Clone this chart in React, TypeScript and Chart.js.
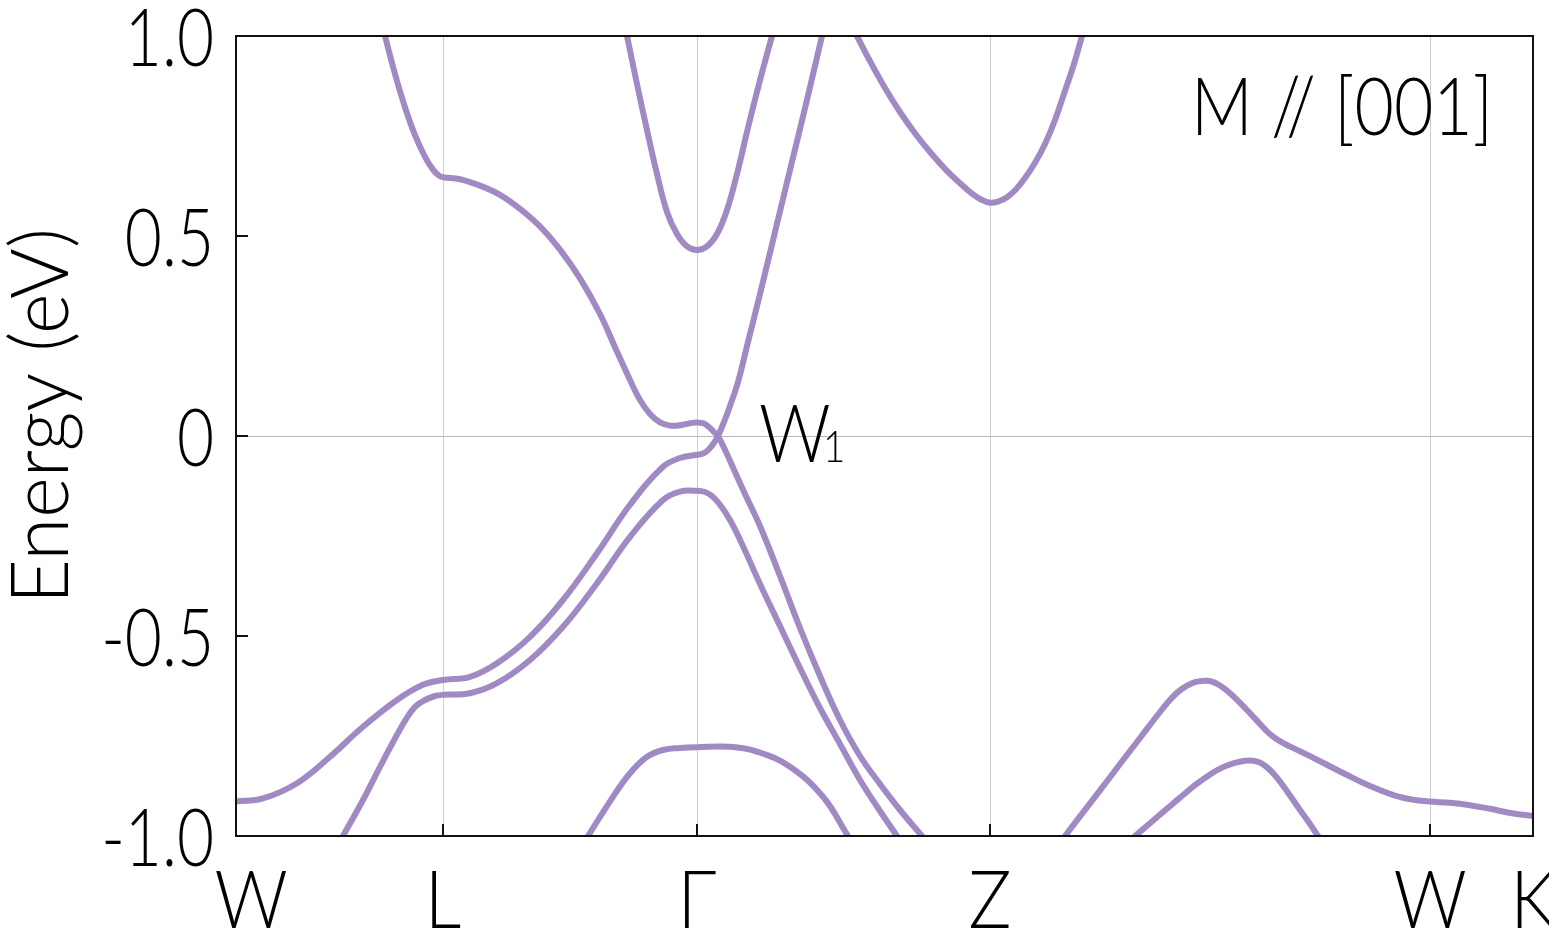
import React, { useEffect, useRef } from "react";
import { Chart, registerables } from "chart.js";

Chart.register(...registerables);

// High-symmetry points along the k-path (arbitrary path-length units)
const kPoints = [0, 0.207, 0.461, 0.754, 1.194, 1.297];
const kLabels = ["W", "L", "Γ", "Z", "W", "K"];

// Energy axis
const yTicks = [-1, -0.5, 0, 0.5, 1];
const yTickLabels = ["-1.0", "-0.5", "0", "0.5", "1.0"];

// Band: conduction band from L, down to Γ, through W1 and down towards Z
const bandC1K = [0.149, 0.159, 0.169, 0.179, 0.189, 0.197, 0.203, 0.207, 0.224, 0.244, 0.264, 0.284, 0.304, 0.324, 0.344, 0.364, 0.379, 0.394, 0.404, 0.414, 0.424, 0.434, 0.444, 0.454, 0.461, 0.468, 0.474, 0.478, 0.482, 0.49, 0.499, 0.509, 0.524, 0.544, 0.564, 0.584, 0.604, 0.624, 0.644, 0.664, 0.686];
const bandC1E = [1.0, 0.905, 0.822, 0.752, 0.698, 0.666, 0.651, 0.647, 0.642, 0.626, 0.603, 0.568, 0.524, 0.466, 0.394, 0.305, 0.222, 0.14, 0.09, 0.055, 0.034, 0.026, 0.027, 0.032, 0.034, 0.031, 0.02, 0.01, 0, -0.04, -0.09, -0.145, -0.225, -0.35, -0.48, -0.6, -0.71, -0.8, -0.87, -0.935, -1.0];

// Band: top valence band W-L-Γ, through W1 and up
const bandV1K = [0, 0.027, 0.061, 0.094, 0.127, 0.161, 0.187, 0.207, 0.234, 0.261, 0.294, 0.327, 0.361, 0.394, 0.427, 0.444, 0.461, 0.468, 0.474, 0.478, 0.482, 0.488, 0.494, 0.502, 0.512, 0.524, 0.539, 0.554, 0.57, 0.586];
const bandV1E = [-0.914, -0.906, -0.868, -0.802, -0.727, -0.66, -0.622, -0.61, -0.602, -0.568, -0.502, -0.41, -0.293, -0.172, -0.077, -0.055, -0.047, -0.043, -0.03, -0.017, 0, 0.035, 0.075, 0.135, 0.235, 0.355, 0.51, 0.665, 0.83, 1.0];

// Band: second valence band
const bandV2K = [0.107, 0.127, 0.144, 0.161, 0.169, 0.179, 0.189, 0.199, 0.207, 0.234, 0.261, 0.294, 0.327, 0.361, 0.394, 0.427, 0.444, 0.461, 0.469, 0.476, 0.484, 0.494, 0.506, 0.524, 0.544, 0.564, 0.584, 0.604, 0.624, 0.642, 0.661];
const bandV2E = [-1.0, -0.91, -0.827, -0.747, -0.712, -0.677, -0.66, -0.65, -0.647, -0.643, -0.618, -0.56, -0.477, -0.368, -0.252, -0.16, -0.139, -0.137, -0.14, -0.15, -0.172, -0.21, -0.27, -0.37, -0.475, -0.58, -0.68, -0.77, -0.86, -0.93, -1.0];

// Band: flat band near Γ at -0.78 eV
const bandV3K = [0.352, 0.377, 0.394, 0.411, 0.427, 0.444, 0.461, 0.494, 0.521, 0.554, 0.587, 0.612];
const bandV3E = [-1.0, -0.902, -0.843, -0.802, -0.785, -0.78, -0.778, -0.777, -0.789, -0.827, -0.902, -1.0];

// Band: conduction parabola at Γ
const bandC2K = [0.391, 0.401, 0.411, 0.421, 0.431, 0.441, 0.451, 0.461, 0.471, 0.481, 0.491, 0.501, 0.511, 0.523, 0.536];
const bandC2E = [1.0, 0.88, 0.765, 0.655, 0.56, 0.505, 0.474, 0.465, 0.474, 0.505, 0.565, 0.655, 0.76, 0.88, 1.0];

// Band: conduction parabola at Z
const bandC3K = [0.621, 0.634, 0.649, 0.664, 0.679, 0.694, 0.709, 0.724, 0.736, 0.746, 0.754, 0.762, 0.771, 0.78, 0.789, 0.799, 0.809, 0.819, 0.829, 0.838, 0.846];
const bandC3E = [1.0, 0.937, 0.87, 0.81, 0.757, 0.71, 0.668, 0.632, 0.606, 0.59, 0.583, 0.586, 0.597, 0.617, 0.645, 0.683, 0.73, 0.79, 0.863, 0.93, 1.0];

// Band: valence band Z-W-K (upper)
const bandR1K = [0.829, 0.844, 0.864, 0.884, 0.904, 0.924, 0.936, 0.946, 0.956, 0.964, 0.97, 0.976, 0.984, 0.994, 1.004, 1.014, 1.024, 1.032, 1.04, 1.049, 1.064, 1.084, 1.109, 1.134, 1.159, 1.179, 1.194, 1.214, 1.234, 1.254, 1.276, 1.297];
const bandR1E = [-1.0, -0.951, -0.886, -0.82, -0.755, -0.69, -0.654, -0.632, -0.618, -0.613, -0.612, -0.614, -0.624, -0.643, -0.667, -0.693, -0.72, -0.741, -0.757, -0.77, -0.788, -0.813, -0.845, -0.875, -0.899, -0.91, -0.914, -0.917, -0.923, -0.932, -0.943, -0.95];

// Band: valence band Z-W (lower)
const bandR2K = [0.899, 0.914, 0.929, 0.944, 0.959, 0.974, 0.986, 0.998, 1.009, 1.017, 1.025, 1.034, 1.044, 1.054, 1.064, 1.074, 1.082];
const bandR2E = [-1.0, -0.968, -0.936, -0.904, -0.873, -0.846, -0.829, -0.818, -0.812, -0.812, -0.818, -0.835, -0.864, -0.899, -0.935, -0.97, -1.0];

const bands: [number[], number[]][] = [
  [bandC1K, bandC1E],
  [bandV1K, bandV1E],
  [bandV2K, bandV2E],
  [bandV3K, bandV3E],
  [bandC2K, bandC2E],
  [bandC3K, bandC3E],
  [bandR1K, bandR1E],
  [bandR2K, bandR2E],
];

const LINE_COLOR = "rgb(161,137,196)";
const FONT = "Lato";

function drawText(
  ctx: CanvasRenderingContext2D,
  s: string,
  x: number,
  y: number,
  size: number,
  align: CanvasTextAlign,
  sx: number,
  rotate = 0
) {
  ctx.save();
  ctx.translate(x, y);
  if (rotate) ctx.rotate(rotate);
  ctx.scale(sx, 1);
  ctx.font = `300 ${size}px "${FONT}"`;
  ctx.textAlign = align;
  ctx.textBaseline = "alphabetic";
  ctx.fillStyle = "#000";
  ctx.fillText(s, 0, 0);
  ctx.restore();
}

const decorPlugin = {
  id: "decor",
  afterDraw(chart: any) {
    const { ctx, chartArea: a, scales } = chart;
    const xs = scales.x;
    const ys = scales.y;
    ctx.save();
    ctx.strokeStyle = "#111";
    ctx.lineWidth = 2;
    ctx.beginPath();
    yTicks.forEach((v) => {
      const py = Math.round(ys.getPixelForValue(v));
      ctx.moveTo(a.left, py);
      ctx.lineTo(a.left + 12, py);
    });
    kPoints.forEach((v) => {
      const px = Math.round(xs.getPixelForValue(v));
      ctx.moveTo(px, a.bottom);
      ctx.lineTo(px, a.bottom - 12);
    });
    ctx.stroke();
    ctx.strokeRect(a.left, a.top, a.right - a.left, a.bottom - a.top);
    ctx.restore();

    // y tick labels
    yTicks.forEach((v, i) => {
      const py = ys.getPixelForValue(v);
      drawText(ctx, yTickLabels[i], a.left - 22, py + 30, 80, "right", 0.8);
    });
    // x tick labels (first label kept inside the frame like the original)
    kPoints.forEach((v, i) => {
      const px = Math.max(xs.getPixelForValue(v), a.left + 15);
      drawText(ctx, kLabels[i], px, a.bottom + 92, 80, "center", 0.9);
    });
    // y title
    drawText(ctx, "Energy (eV)", 68, (a.top + a.bottom) / 2 - 20, 80, "center", 0.97, -Math.PI / 2);
    // annotations
    drawText(ctx, "M // [001]", a.right - 40, a.top + 99, 80, "right", 0.85);
    const wx = xs.getPixelForValue(0.461) + 62;
    const wy = ys.getPixelForValue(0) + 26;
    drawText(ctx, "W", wx, wy, 80, "left", 0.88);
    drawText(ctx, "1", wx + 64, wy, 44, "left", 0.88);
  },
};

export default function App() {
  const ref = useRef<HTMLCanvasElement | null>(null);

  useEffect(() => {
    if (!ref.current) return;
    const datasets = bands.map(([ks, es]) => ({
      data: ks.map((k, i) => ({ x: k, y: es[i] })),
      showLine: true,
      borderColor: LINE_COLOR,
      backgroundColor: LINE_COLOR,
      borderWidth: 6,
      pointRadius: 0,
      tension: 0.4,
      borderJoinStyle: "round" as const,
      borderCapStyle: "round" as const,
      clip: 0,
    }));
    const chart = new Chart(ref.current, {
      type: "scatter",
      data: { datasets },
      options: {
        animation: false,
        responsive: false,
        devicePixelRatio: 1,
        layout: { padding: { left: 0, top: 36, right: 16, bottom: 0 } },
        plugins: { legend: { display: false }, tooltip: { enabled: false } },
        scales: {
          x: {
            type: "linear",
            min: 0,
            max: 1.297,
            afterBuildTicks: (s: any) => {
              s.ticks = kPoints.map((v) => ({ value: v }));
            },
            afterFit: (s: any) => {
              s.height = 114;
              s.paddingLeft = 0;
              s.paddingRight = 0;
            },
            ticks: { display: false },
            grid: { color: "#cfcfcf", lineWidth: 1, drawTicks: false },
            border: { display: false },
          },
          y: {
            type: "linear",
            min: -1,
            max: 1,
            afterBuildTicks: (s: any) => {
              s.ticks = yTicks.map((v) => ({ value: v }));
            },
            afterFit: (s: any) => {
              s.width = 236;
              s.paddingTop = 0;
              s.paddingBottom = 0;
            },
            ticks: { display: false },
            grid: {
              color: (c: any) => (c.tick && c.tick.value === 0 ? "#b8b8b8" : "rgba(0,0,0,0)"),
              lineWidth: 1,
              drawTicks: false,
            },
            border: { display: false },
          },
        },
      },
      plugins: [decorPlugin],
    });
    return () => chart.destroy();
  }, []);

  return (
    <div style={{ position: "absolute", left: 0, top: 0, width: 1549, height: 950, background: "#fff" }}>
      <canvas ref={ref} width={1549} height={950} style={{ display: "block", width: 1549, height: 950 }} />
    </div>
  );
}
